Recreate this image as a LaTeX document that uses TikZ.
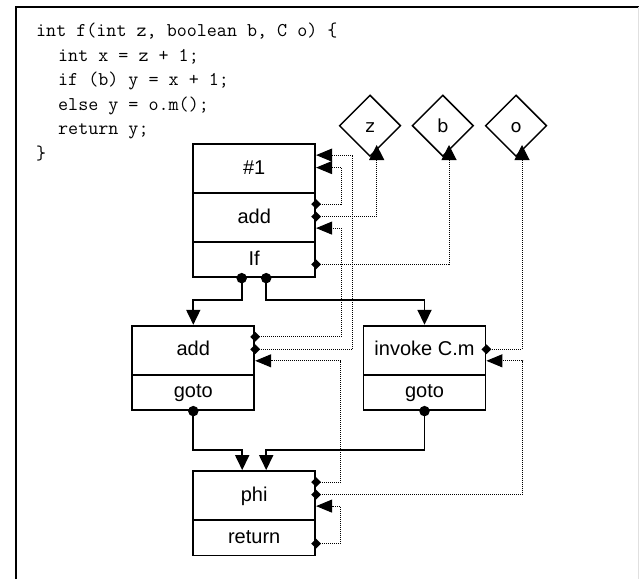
\documentclass[tikz,border=0pt]{standalone}
\usepackage{fontspec}
\usetikzlibrary{arrows.meta,shapes.geometric,calc}
\newfontfamily\labelfont{Liberation Sans}
\newfontfamily\paramfont{DejaVu Sans}
\tikzset{
  code/.style={anchor=base west,inner sep=0pt,font=\ttfamily\fontsize{19.5}{22}\selectfont},
  row/.style={draw,line width=1.8pt,minimum width=122pt,inner sep=0pt,
    text height=15pt,text depth=4pt,font=\labelfont\fontsize{20}{24}\selectfont},
  bigrow/.style={row,minimum height=49pt},
  smallrow/.style={row,minimum height=35.5pt},
  param/.style={diamond,draw,line width=1.5pt,aspect=1,minimum width=61.4pt,
    minimum height=61.4pt,inner sep=0pt,text height=13pt,text depth=0pt,
    font=\paramfont\fontsize{18}{20}\selectfont},
  dmark/.style={diamond,fill=black,aspect=1,minimum width=10pt,minimum height=10pt,inner sep=0pt},
  cmark/.style={circle,fill=black,minimum size=10.5pt,inner sep=0pt},
  dep/.style={line width=1pt,dash pattern=on 1pt off 1pt},
  usearrow/.style={dep,-{Triangle[length=16pt,width=13pt]}},
  paramarrow/.style={dep,-{Triangle[length=15pt,width=15pt]}},
  flow/.style={line width=1.8pt,-{Triangle[length=15pt,width=14pt]}},
}
\begin{document}
\begin{tikzpicture}[x=1pt,y=-1pt]
\useasboundingbox (0,0) rectangle (639,579);
% frame
\draw[line width=2.2pt] (16,579) -- (16,6.7) -- (639,6.7);
\draw[black!12,line width=1pt] (638.3,6.7) -- (638.3,579);

% source code
\node[code] (l1) at (36,36.7) {int f(int z, boolean b, C o) \{};
\node[code] (l2) at (58,61.2) {int x = z + 1;};
\node[code] (l3) at (58,85.7) {if (b) y = x + 1;};
\node[code] (l4) at (58,110.2) {else y = o.m();};
\node[code] (l5) at (58,134.7) {return y;};
\node[code] (l6) at (36,159.2) {\}};

% parameters
\node[param] (z) at (370,125.7) {z};
\node[param] (b) at (442.8,125.7) {b};
\node[param] (o) at (516,125.7) {o};

% blocks
\node[bigrow]   (n1)  at (254.2,168.5) {\#1};
\node[bigrow]   (n1a) at (254.2,217.5) {add};
\node[smallrow] (n1f) at (254.2,259.5) {If};

\node[bigrow]   (n2a) at (193.3,350.2) {add};
\node[smallrow] (n2g) at (193.3,392.45) {goto};

\node[bigrow]   (n3a) at (424.5,350.2) {invoke C.m};
\node[smallrow] (n3g) at (424.5,392.45) {goto};

\node[bigrow]   (n4a) at (254.2,495.5) {phi};
\node[smallrow] (n4r) at (254.2,537.75) {return};

% ports on the right edges
\coordinate (a1) at ($(n1.north east)+(0,12)$);
\coordinate (a2) at ($(n1.north east)+(0,24.5)$);
\coordinate (d1) at ($(n1a.north east)+(0,12)$);
\coordinate (d2) at ($(n1a.north east)+(0,24.5)$);
\coordinate (a3) at ($(n1a.north east)+(0,36)$);
\coordinate (d3) at ($(n1f.north east)+(0,23.5)$);
\coordinate (d4) at ($(n2a.north east)+(0,12)$);
\coordinate (d5) at ($(n2a.north east)+(0,24.5)$);
\coordinate (a4) at ($(n2a.north east)+(0,36)$);
\coordinate (d6) at ($(n3a.north east)+(0,24.5)$);
\coordinate (a5) at ($(n3a.north east)+(0,36)$);
\coordinate (d7) at ($(n4a.north east)+(0,12)$);
\coordinate (d8) at ($(n4a.north east)+(0,24.5)$);
\coordinate (a6) at ($(n4a.north east)+(0,36)$);
\coordinate (d9) at ($(n4r.north east)+(0,24.5)$);

% data dependencies
\draw[usearrow] (d5) -| ([xshift=36.7pt]a1) -- (a1);
\draw[usearrow] (d1) -| ([xshift=25pt]a2) -- (a2);
\draw[paramarrow] (d2) -| ($(z.center)+(6.7,19.3)$);
\draw[usearrow] (d4) -| ([xshift=25pt]a3) -- (a3);
\draw[paramarrow] (d3) -| ($(b.center)+(6.2,19.3)$);
\draw[usearrow] (d7) -| ([xshift=85.7pt]a4) -- (a4);
\draw[paramarrow] (d6) -| ($(o.center)+(6,19.3)$);
\draw[usearrow] (d8) -| ([xshift=36.5pt]a5) -- (a5);
\draw[usearrow] (d9) -| ([xshift=24.3pt]a6) -- (a6);

\foreach \p in {d1,d2,d3,d4,d5,d6,d7,d8,d9}
  \node[dmark] (m\p) at (\p) {};

% control flow
\coordinate (c1) at ($(n1f.south)+(-12.5,0)$);
\coordinate (c2) at ($(n1f.south)+(12,0)$);
\coordinate (c3) at (n2g.south);
\coordinate (c4) at (n3g.south);
\draw[flow] (c1) -- ++(0,21.5) -| (n2a.north);
\draw[flow] (c2) -- ++(0,21.5) -| (n3a.north);
\draw[flow] (c3) -- ++(0,39) -| ([xshift=-12pt]n4a.north);
\draw[flow] (c4) -- ++(0,38.5) -| ([xshift=12pt]n4a.north);
\foreach \p in {c1,c2,c3,c4}
  \node[cmark] (k\p) at (\p) {};
\end{tikzpicture}
\end{document}
